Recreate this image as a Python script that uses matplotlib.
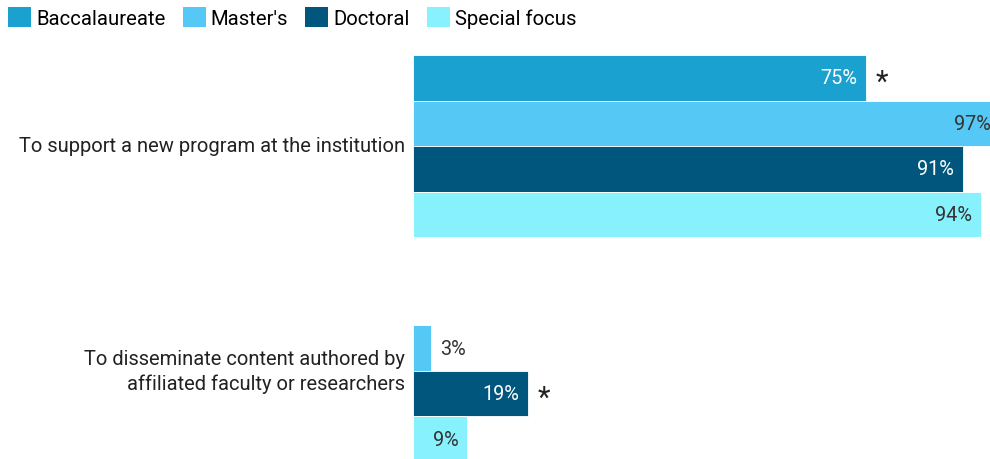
import numpy as np
import matplotlib.pyplot as plt
from matplotlib.patches import Patch

plt.rcParams['font.family'] = ['Roboto', 'DejaVu Sans']

categories = ["To support a new program at the institution",
              "To disseminate content authored by\naffiliated faculty or researchers"]
series = ["Baccalaureate", "Master's", "Doctoral", "Special focus"]
colors = ["#1ba1cf", "#56c8f5", "#00567c", "#87f2fd"]
text_colors = ["white", "#333333", "white", "#333333"]
# percent of institutions, per series (None = not reported)
values = [
    [75, 97, 91, 94],
    [None, 3, 19, 9],
]
# significant differences flagged with an asterisk
flags = [
    [True, False, False, False],
    [False, False, True, False],
]

fig = plt.figure(figsize=(9.9, 4.6), dpi=100)
ax = fig.add_axes([413 / 990, 0, 577 / 990, 404 / 460])

bar_h = 1.0
group_gap = 4.945
for g, (vals, fl) in enumerate(zip(values, flags)):
    for i, v in enumerate(vals):
        if v is None:
            continue
        y = g * group_gap + i
        ax.barh(y, v, height=bar_h, color=colors[i], edgecolor="white", linewidth=0.6)
        if v >= 6:
            ax.text(v - 1.4, y, f"{v}%", ha="right", va="center",
                    color=text_colors[i], fontsize=14.3, clip_on=False)
            end = v
        else:
            ax.text(v + 1.5, y, f"{v}%", ha="left", va="center",
                    color="#333333", fontsize=14.3)
            end = v + 6
        if fl[i]:
            ax.text(end + 1.6, y + 0.08, "*", ha="left", va="center",
                    color="#222222", fontsize=21)

ax.set_xlim(0, (990 - 413) / 6.04)
ax.set_ylim(-0.5 + 404 / 45.5, -0.5)
ax.axis("off")

for g, cat in enumerate(categories):
    yc = g * group_gap + 1.5
    ax.text(-1.3, yc, cat, ha="right", va="center", fontsize=14.5,
            color="#222222", linespacing=1.3)

handles = [Patch(facecolor=c, edgecolor="none") for c in colors]
fig.legend(handles, series, loc="upper left", bbox_to_anchor=(0.0, 1.0),
           ncol=4, frameon=False, fontsize=14.6, handlelength=1.13,
           handleheight=1.13, handletextpad=0.25, columnspacing=0.85,
           borderaxespad=0.0, borderpad=0.4)

fig.savefig("out.png", dpi=100)
